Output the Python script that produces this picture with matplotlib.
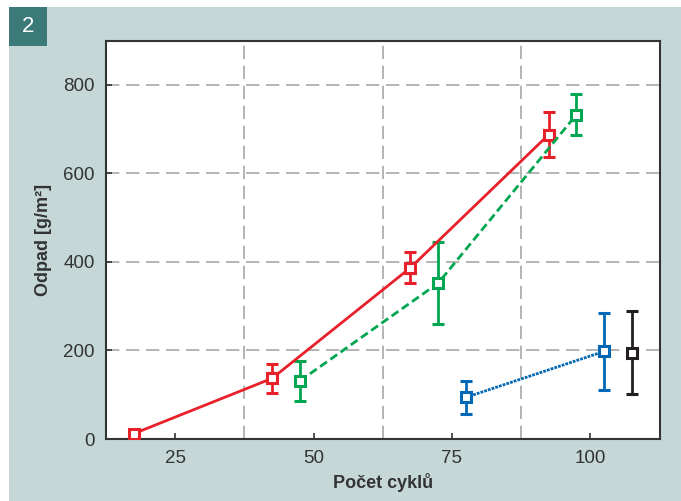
import matplotlib.pyplot as plt
import matplotlib.patches as patches
from matplotlib.ticker import FixedLocator

plt.rcParams['font.family'] = ['Liberation Sans', 'DejaVu Sans']

# data
red_x = [17.5, 42.5, 67.5, 92.5]
red_y = [12, 137, 387, 688]
red_err = [0, 33, 35, 50]

green_x = [47.5, 72.5, 97.5]
green_y = [131, 352, 733]
green_err = [46, 93, 47]

blue_x = [77.5, 102.5]
blue_y = [94, 198]
blue_err = [37, 87]

black_x = [107.5]
black_y = [195]
black_err = [94]

fig = plt.figure(figsize=(6.81, 5.01), dpi=100)
fig.patch.set_facecolor('white')

# background panel and badge
fig.patches.append(patches.Rectangle((9 / 681, 0), 1, 1 - 7 / 501, transform=fig.transFigure,
                                     facecolor='#c5d8d7', edgecolor='none', zorder=-10))
fig.patches.append(patches.Rectangle((9 / 681, 1 - 46 / 501), 38 / 681, 39 / 501,
                                     transform=fig.transFigure, facecolor='#3b7a78',
                                     edgecolor='none', zorder=-9))
fig.text(28 / 681, 1 - 27 / 501, '2', color='white', fontsize=16,
         ha='center', va='center')

ax = fig.add_axes([106 / 681, 1 - 439 / 501, 553.5 / 681, 398.3 / 501])
ax.set_facecolor('white')

mk = dict(marker='s', markersize=7.5, markerfacecolor='white', markeredgewidth=2.2,
          capsize=4, elinewidth=2, capthick=2, linewidth=2)

ax.errorbar(red_x, red_y, yerr=red_err, color='#e8202a', linestyle='-', zorder=5, **mk)
ax.errorbar(green_x, green_y, yerr=green_err, color='#00a651', linestyle=(0, (3, 1.5)), zorder=5, **mk)
ax.errorbar(blue_x, blue_y, yerr=blue_err, color='#0068b5', linestyle=(0, (1, 0.4)), zorder=5, **mk)
ax.errorbar(black_x, black_y, yerr=black_err, color='#231f20', linestyle='none', zorder=5, **mk)

ax.set_xlim(12.5, 112.5)
ax.set_ylim(0, 900)
ax.set_xticks([25, 50, 75, 100])
ax.xaxis.set_minor_locator(FixedLocator([37.5, 62.5, 87.5]))
ax.set_yticks([0, 200, 400, 600, 800])

ax.grid(True, which='minor', axis='x', color='#a8a8a8', linestyle=(0, (8, 4)), linewidth=1.2)
ax.grid(True, which='major', axis='y', color='#a8a8a8', linestyle=(0, (8, 4)), linewidth=1.2)
ax.set_axisbelow(True)

ax.tick_params(axis='both', which='major', direction='in', length=4, width=1.2,
               labelsize=13.5, colors='#333333', pad=8)
ax.tick_params(axis='x', which='minor', length=0)
for s in ax.spines.values():
    s.set_color('#333333')
    s.set_linewidth(1.5)

ax.set_xlabel('Počet cyklů', fontsize=13, fontweight='bold', color='#333333', labelpad=4)
ax.set_ylabel('Odpad [g/m²]', fontsize=13, fontweight='bold', color='#333333', labelpad=8)

fig.savefig('out.png', dpi=100)
